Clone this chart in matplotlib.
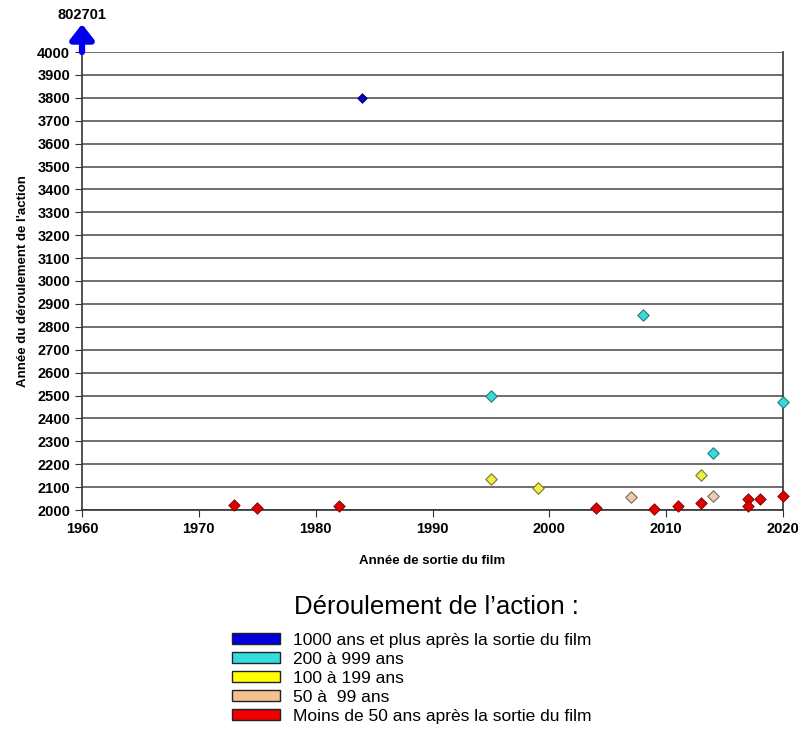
import matplotlib
matplotlib.use("Agg")
import matplotlib.pyplot as plt
from matplotlib.patches import Patch

plt.rcParams['font.family'] = ['Liberation Sans', 'DejaVu Sans']

# film release year / year the action takes place, grouped by gap
blue_x = [1984]
blue_y = [3800]
cyan_x = [1995, 2008, 2014, 2020]
cyan_y = [2500, 2850, 2250, 2472]
yellow_x = [1995, 1999, 2013]
yellow_y = [2135, 2098, 2153]
beige_x = [2007, 2014]
beige_y = [2055, 2062]
red_x = [1973, 1975, 1982, 2004, 2009, 2011, 2013, 2017, 2017, 2018, 2020]
red_y = [2021, 2007, 2018, 2010, 2005, 2016, 2029, 2046, 2018, 2046, 2063]

# off-scale point (shown as an arrow)
off_x = 1960
off_y = 802701

legend_labels = [
    "1000 ans et plus après la sortie du film",
    "200 à 999 ans",
    "100 à 199 ans",
    "50 à  99 ans",
    "Moins de 50 ans après la sortie du film",
]
legend_colors = ['#0000dd', '#33dddd', '#ffff00', '#f5c090', '#ee0000']

fig = plt.figure(figsize=(8.1, 7.36), dpi=100)
ax = fig.add_axes([82 / 810, 1 - 510 / 736, (783 - 82) / 810, (510 - 52) / 736])

ax.set_xlim(1960, 2020)
ax.set_ylim(2000, 4000)
ax.set_xticks(range(1960, 2021, 10))
ax.set_yticks(range(2000, 4001, 100))
ax.yaxis.grid(True, color='#555555', lw=1.2)
ax.set_axisbelow(True)
ax.spines['top'].set_visible(False)
for s in ['left', 'bottom', 'right']:
    ax.spines[s].set_color('#333333')
    ax.spines[s].set_linewidth(1.2)
ax.tick_params(axis='both', labelsize=10.5, length=5, color='#333333')
for lab in ax.get_xticklabels() + ax.get_yticklabels():
    lab.set_fontweight('bold')

ax.scatter(red_x, red_y, marker='D', s=34, c='#dd0000', edgecolors='#770000',
           linewidths=0.6, zorder=3, clip_on=False)
ax.scatter(beige_x, beige_y, marker='D', s=34, c='#e8cdb0', edgecolors='#7a6a5a',
           linewidths=0.8, zorder=3, clip_on=False)
ax.scatter(yellow_x, yellow_y, marker='D', s=34, c='#eeee44', edgecolors='#777733',
           linewidths=0.8, zorder=3, clip_on=False)
ax.scatter(cyan_x, cyan_y, marker='D', s=34, c='#33dddd', edgecolors='#337777',
           linewidths=0.8, zorder=3, clip_on=False)
ax.scatter(blue_x, blue_y, marker='D', s=24, c='#0000bb', edgecolors='#000066',
           linewidths=0.6, zorder=3, clip_on=False)

# arrow for the off-scale value
ax.annotate('', xy=(off_x, 4000 + 2000 * 28 / 458), xytext=(off_x, 4000),
            arrowprops=dict(arrowstyle='-|>,head_width=0.7,head_length=0.9',
                            color='#0000ee', lw=4.5, shrinkA=0, shrinkB=0),
            annotation_clip=False)
ax.text(off_x, 4000 + 2000 * 37 / 458, str(off_y), ha='center', va='center',
        fontsize=10.5, fontweight='bold', clip_on=False)

ax.set_xlabel("Année de sortie du film", fontsize=9.5, fontweight='bold', labelpad=14)
ax.set_ylabel("Année du déroulement de l'action", fontsize=9.5, fontweight='bold',
              labelpad=6)

# legend title drawn on its own so the gap below it matches
fig.text(436 / 810, 1 - 607 / 736, "Déroulement de l\u2019action :",
         ha='center', va='center', fontsize=18.5)

handles = [Patch(facecolor=c, edgecolor='#222222', lw=1.0) for c in legend_colors]
leg = fig.legend(handles, legend_labels, loc='upper left',
                 bbox_to_anchor=(216 / 810, 1 - 617 / 736), frameon=False,
                 fontsize=12.5, handlelength=2.8, handleheight=0.58,
                 labelspacing=0.23, handletextpad=0.72)

fig.savefig('out.png', dpi=100, facecolor='white')
